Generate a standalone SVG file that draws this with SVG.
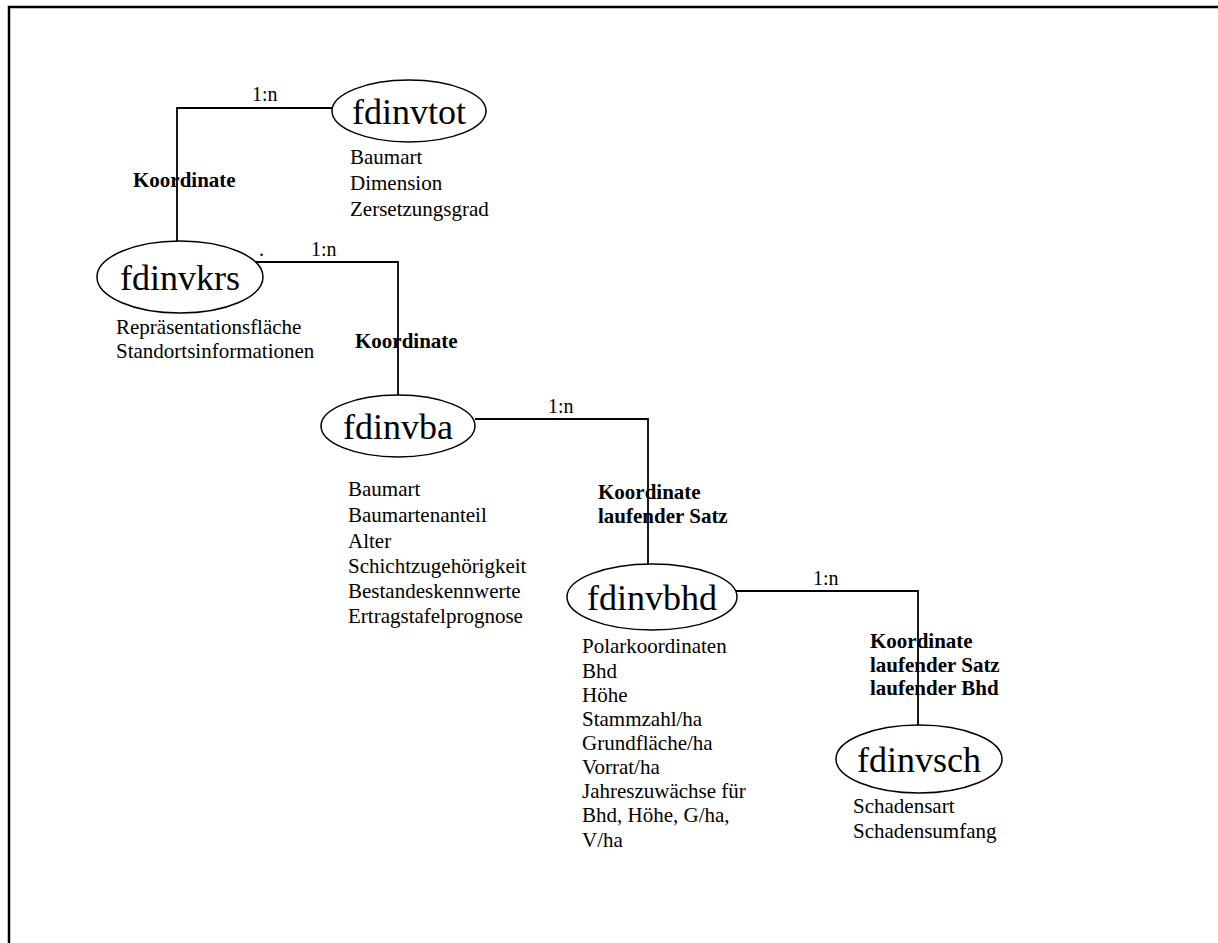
<svg xmlns="http://www.w3.org/2000/svg" width="1218" height="943" viewBox="0 0 1218 943">
<style>
.frame{fill:none;stroke:#000;stroke-width:2.5}
.ent{fill:#fff;stroke:#000;stroke-width:1.5}
.name{font-family:"Liberation Serif","Times New Roman",serif;font-size:36px;fill:#000;text-anchor:middle}
.attr{font-family:"Liberation Serif","Times New Roman",serif;font-size:21px;fill:#000}
.key{font-family:"Liberation Serif","Times New Roman",serif;font-size:21px;font-weight:bold;fill:#000}
.card{font-family:"Liberation Serif","Times New Roman",serif;font-size:20px;fill:#000}
.conn{fill:none;stroke:#000;stroke-width:1.8}
</style>
<rect width="1218" height="943" fill="#fff"/>
<path class="frame" d="M9,943 V7 H1218"/>
<g id="connectors">
<path class="conn" d="M333,108 H177 V242"/>
<text class="card" x="252" y="101">1:n</text>
<text class="key" x="133" y="187">Koordinate</text>
<path class="conn" d="M253,262 H398 V395"/>
<text class="card" x="259" y="256">.</text>
<text class="card" x="311" y="256">1:n</text>
<text class="key" x="355" y="348">Koordinate</text>
<path class="conn" d="M475,419 H648 V564"/>
<text class="card" x="548" y="413">1:n</text>
<text class="key" x="598" y="499">Koordinate</text>
<text class="key" x="598" y="523">laufender Satz</text>
<path class="conn" d="M736,591 H918 V725"/>
<text class="card" x="813" y="585">1:n</text>
<text class="key" x="870" y="648">Koordinate</text>
<text class="key" x="870" y="672">laufender Satz</text>
<text class="key" x="870" y="695">laufender Bhd</text>
</g>
<g id="fdinvtot">
<ellipse class="ent" cx="409" cy="111" rx="77" ry="31"/>
<text class="name" x="409" y="124">fdinvtot</text>
<text class="attr" x="350" y="164">Baumart</text>
<text class="attr" x="350" y="190">Dimension</text>
<text class="attr" x="350" y="216">Zersetzungsgrad</text>
</g>
<g id="fdinvkrs">
<ellipse class="ent" cx="180" cy="277" rx="83" ry="36"/>
<text class="name" x="180" y="290">fdinvkrs</text>
<text class="attr" x="116" y="334">Repräsentationsfläche</text>
<text class="attr" x="116" y="358">Standortsinformationen</text>
</g>
<g id="fdinvba">
<ellipse class="ent" cx="398" cy="426" rx="77" ry="31"/>
<text class="name" x="398" y="439">fdinvba</text>
<text class="attr" x="348" y="496">Baumart</text>
<text class="attr" x="348" y="522">Baumartenanteil</text>
<text class="attr" x="348" y="548">Alter</text>
<text class="attr" x="348" y="573">Schichtzugehörigkeit</text>
<text class="attr" x="348" y="598">Bestandeskennwerte</text>
<text class="attr" x="348" y="623">Ertragstafelprognose</text>
</g>
<g id="fdinvbhd">
<ellipse class="ent" cx="652" cy="597" rx="85" ry="33"/>
<text class="name" x="652" y="610">fdinvbhd</text>
<text class="attr" x="582" y="653">Polarkoordinaten</text>
<text class="attr" x="582" y="678">Bhd</text>
<text class="attr" x="582" y="702">Höhe</text>
<text class="attr" x="582" y="726">Stammzahl/ha</text>
<text class="attr" x="582" y="750">Grundfläche/ha</text>
<text class="attr" x="582" y="774">Vorrat/ha</text>
<text class="attr" x="582" y="798">Jahreszuwächse für</text>
<text class="attr" x="582" y="822">Bhd, Höhe, G/ha,</text>
<text class="attr" x="582" y="847">V/ha</text>
</g>
<g id="fdinvsch">
<ellipse class="ent" cx="919" cy="759" rx="83" ry="34"/>
<text class="name" x="919" y="772">fdinvsch</text>
<text class="attr" x="853" y="813">Schadensart</text>
<text class="attr" x="853" y="838">Schadensumfang</text>
</g>
</svg>
